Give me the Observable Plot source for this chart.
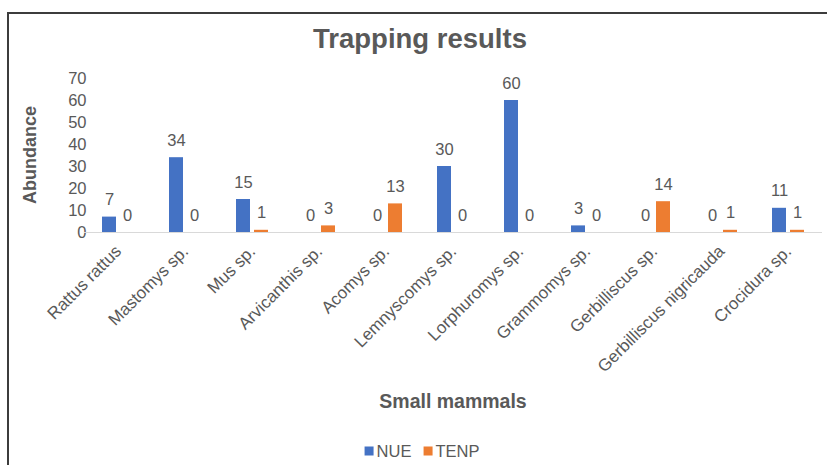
<!DOCTYPE html>
<html>
<head>
<meta charset="utf-8">
<script src="https://cdn.jsdelivr.net/npm/d3@7"></script>
<script src="https://cdn.jsdelivr.net/npm/@observablehq/plot@0.6"></script>
<style>
  html, body { margin: 0; padding: 0; background: #fff; overflow: hidden; }
  #wrap { position: relative; width: 827px; height: 465px; font-family: "Liberation Sans", Arial, sans-serif; color: #595959; overflow: hidden; }
  #border { position: absolute; left: 7px; top: 12px; width: 900px; height: 500px; border-left: 2px solid #3c3c3c; border-top: 2px solid #3c3c3c; }
  #title { position: absolute; left: 420px; top: 23px; transform: translateX(-50%); font-size: 27.5px; font-weight: bold; white-space: nowrap; }
  #ylabel { position: absolute; left: 30px; top: 155px; transform: translate(-50%, -50%) rotate(-90deg); font-size: 18px; font-weight: bold; white-space: nowrap; }
  #xlabel { position: absolute; left: 453px; top: 401px; transform: translate(-50%, -50%); font-size: 19.5px; font-weight: bold; white-space: nowrap; }
  #legend { position: absolute; left: 422px; top: 451px; transform: translate(-50%, -50%); font-size: 16.5px; white-space: nowrap; display: flex; gap: 12px; }
  #legend span.sw { display: inline-block; width: 9px; height: 9px; margin-right: 3px; vertical-align: 1px; }
  #chart { position: absolute; left: 0; top: 0; }
  #chart g[aria-label="fx-axis tick label"] text { font-size: 17px; }
  #chart g[aria-label="y-axis tick label"] text { font-size: 16.5px; }
</style>
</head>
<body>
<div id="wrap">
  <div id="border"></div>
  <div id="chart"></div>
  <div id="title">Trapping results</div>
  <div id="ylabel">Abundance</div>
  <div id="xlabel">Small mammals</div>
  <div id="legend"></div>
</div>
<script>
const species = ["Rattus rattus", "Mastomys sp.", "Mus sp.", "Arvicanthis sp.", "Acomys sp.", "Lemnyscomys sp.", "Lorphuromys sp.", "Grammomys sp.", "Gerbilliscus sp.", "Gerbilliscus nigricauda", "Crocidura sp."];
const nue  = [7, 34, 15, 0, 0, 30, 60, 3, 0, 0, 11];
const tenp = [0, 0, 1, 3, 13, 0, 0, 0, 14, 1, 1];
const seriesNames = ["NUE", "TENP"];
const seriesColors = ["#4472C4", "#ED7D31"];
const yTicks = [0, 10, 20, 30, 40, 50, 60, 70];

const data = [];
species.forEach((s, i) => {
  data.push({species: s, series: "NUE", value: nue[i]});
  data.push({species: s, series: "TENP", value: tenp[i]});
});

const chart = Plot.plot({
  width: 827,
  height: 400,
  marginTop: 78,
  marginBottom: 168,
  marginLeft: 82,
  marginRight: 4,
  style: {fontFamily: "Liberation Sans, Arial, sans-serif", fontSize: "16px", color: "#595959", background: "transparent"},
  fx: {domain: species, paddingInner: 0.5, paddingOuter: 0.25, axis: "bottom", tickRotate: -45, tickSize: 0, tickPadding: 16, label: null},
  x: {domain: seriesNames, paddingInner: 0.2, paddingOuter: 0, axis: null},
  y: {domain: [0, 70], ticks: yTicks, tickSize: 0, tickPadding: 15, label: null},
  color: {domain: seriesNames, range: seriesColors},
  marks: [
    Plot.ruleY([0], {stroke: "#d9d9d9", strokeWidth: 1, insetLeft: -17, insetRight: -17}),
    Plot.barY(data, {fx: "species", x: "series", y: "value", fill: "series"}),
    Plot.text(data, {fx: "species", x: "series", y: "value", text: d => String(d.value), dy: -12, lineAnchor: "bottom", fill: "#595959", fontSize: 16.5})
  ]
});
document.getElementById("chart").appendChild(chart);

const legend = document.getElementById("legend");
seriesNames.forEach((n, i) => {
  const item = document.createElement("div");
  item.innerHTML = `<span class="sw" style="background:${seriesColors[i]}"></span>${n}`;
  legend.appendChild(item);
});
</script>
</body>
</html>
